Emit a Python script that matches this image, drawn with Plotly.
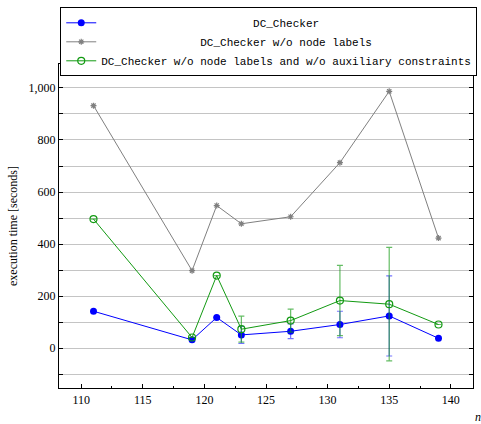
import plotly.graph_objects as go

n = [111, 119, 121, 123, 127, 131, 135, 139]
dc_checker = [142, 32, 118, 51, 65, 91, 124, 38]
dc_checker_err = [None, None, None, 33, 28, 51, 154, None]
no_labels = [932, 298, 548, 478, 505, 713, 987, 423]
no_labels_aux = [496, 41, 279, 73, 106, 183, 169, 91]
no_labels_aux_err = [None, None, None, 50, 44, 135, 218, None]

names = [
    "DC_Checker",
    "DC_Checker w/o node labels",
    "DC_Checker w/o node labels and w/o auxiliary constraints",
]
longest = max(len(s) for s in names)
def centered(s):
    pad = (longest - len(s)) // 2
    return "\u00a0" * pad + s

BLUE = "#0000ff"
GRAY = "#808080"
GREEN = "#129a12"

fig = go.Figure()
fig.add_trace(go.Scatter(
    x=n, y=dc_checker, name=centered(names[0]), mode="lines+markers",
    line=dict(color=BLUE, width=1),
    marker=dict(symbol="circle", size=7, color=BLUE),
    error_y=dict(type="data", array=dc_checker_err, color="rgba(0,0,255,0.55)", thickness=1.2, width=3),
))
fig.add_trace(go.Scatter(
    x=n, y=no_labels, name=centered(names[1]), mode="lines+markers",
    line=dict(color=GRAY, width=1),
    marker=dict(symbol="asterisk-open", size=5, color=GRAY, line=dict(color=GRAY, width=1.2)),
))
fig.add_trace(go.Scatter(
    x=n, y=no_labels_aux, name=centered(names[2]), mode="lines+markers",
    line=dict(color=GREEN, width=1),
    marker=dict(symbol="circle-open", size=7, color=GREEN, line=dict(color=GREEN, width=1.2)),
    error_y=dict(type="data", array=no_labels_aux_err, color="rgba(18,154,18,0.65)", thickness=1.2, width=3),
))

serif = "Liberation Serif, DejaVu Serif, serif"
fig.update_layout(
    width=481, height=424,
    margin=dict(l=59, r=8, t=64, b=36, autoexpand=False),
    plot_bgcolor="white", paper_bgcolor="white",
    font=dict(family=serif, size=12, color="black"),
    showlegend=True,
    legend=dict(
        x=0.003, y=1.175, xanchor="left", yanchor="top",
        bordercolor="black", borderwidth=1, bgcolor="white",
        font=dict(family="Liberation Mono, DejaVu Sans Mono, monospace", size=11, color="black"),
        itemwidth=30, tracegroupgap=0,
    ),
    xaxis=dict(
        range=[108.2, 141.8], tickvals=[110, 115, 120, 125, 130, 135, 140],
        showgrid=False, zeroline=False,
        showline=True, linecolor="black", linewidth=1.2, mirror="ticks",
        ticks="inside", ticklen=4, tickcolor="black", tickwidth=0.8,
        minor=dict(tickvals=[112.5, 117.5, 122.5, 127.5, 132.5, 137.5], ticks="inside", ticklen=2, tickcolor="black"),
        tickfont=dict(family=serif, size=12),
    ),
    yaxis=dict(
        range=[-153, 1092], tickvals=[0, 200, 400, 600, 800, 1000], tickformat=",",
        showgrid=True, gridcolor="#c4c4c4", gridwidth=1, zeroline=False,
        showline=True, linecolor="black", linewidth=1.2, mirror="ticks",
        ticks="inside", ticklen=4, tickcolor="black", tickwidth=0.8,
        minor=dict(tickvals=[-100, 100, 300, 500, 700, 900], showgrid=True, gridcolor="#c4c4c4", gridwidth=1,
                   ticks="inside", ticklen=4, tickcolor="black"),
        tickfont=dict(family=serif, size=12),
        title=dict(text="execution time [seconds]", font=dict(family=serif, size=12), standoff=8),
    ),
    annotations=[dict(
        text="<i>n</i>", xref="paper", yref="paper", x=1.012, y=-0.0895,
        xanchor="center", yanchor="middle", showarrow=False,
        font=dict(family=serif, size=12),
    )],
)

fig.write_html("out.html", config={"displayModeBar": False},
               post_script="document.body.style.margin='0';document.body.style.overflow='hidden';")
